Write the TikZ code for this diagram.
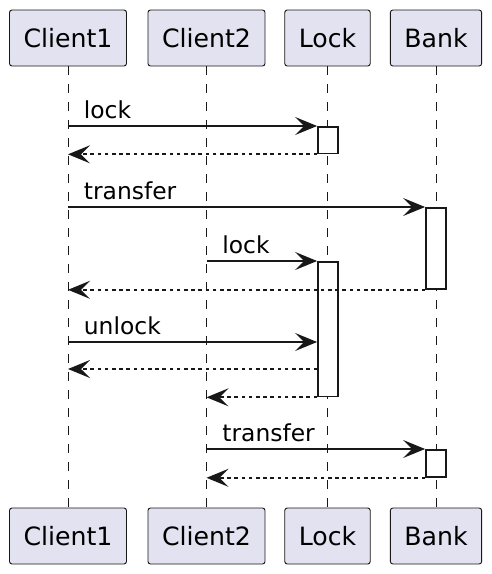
\documentclass[tikz,border=0pt]{standalone}
\usepackage{fontspec}
\setmainfont{DejaVu Sans}
\usetikzlibrary{arrows.meta}
\usetikzlibrary{positioning}
\definecolor{partfill}{HTML}{E2E2F0}
\definecolor{ink}{HTML}{181818}

\tikzset{
  part/.style={draw=ink, fill=partfill, rounded corners=2.5pt, line width=0.9pt,
    minimum height=56pt, inner xsep=14pt, font=\fontsize{25.2}{30}\selectfont},
  life/.style={draw=ink, line width=0.9pt, dash pattern=on 9pt off 9pt},
  act/.style={draw=ink, fill=white, line width=1.8pt, minimum width=20pt, inner sep=0pt, anchor=north},
  msg/.style={draw=ink, line width=1.8pt, -{Stealth[length=22pt,width=18pt,inset=9pt]}},
  ret/.style={msg, dash pattern=on 3.6pt off 3.6pt},
  lbl/.style={font=\fontsize{23.4}{28}\selectfont, anchor=base west, xshift=15pt, yshift=8pt, inner sep=0pt}
}

\begin{document}
\begin{tikzpicture}[x=1pt, y=-1pt]
	\useasboundingbox (0,0) rectangle (491,574);

	% participants, top and bottom
	\begin{scope}[every node/.style={part}]
		\node (c1t) at (68,38) {Client1};
		\node (c2t) at (206.5,38) {Client2};
		\node (lkt) at (327.5,38) {Lock};
		\node (bkt) at (436,38) {Bank};
		\node (c1b) at (68,536) {Client1};
		\node (c2b) at (206.5,536) {Client2};
		\node (lkb) at (327.5,536) {Lock};
		\node (bkb) at (436,536) {Bank};
	\end{scope}

	% lifelines
	\foreach \p in {c1, c2, lk, bk}
		\draw[life] (\p t) -- (\p b);

	% activations
	\node[act, minimum height=26.5pt] (a1) at (328,126) {};
	\node[act, minimum height=81pt] (a2) at (436,207) {};
	\node[act, minimum height=134.5pt] (a3) at (328,261) {};
	\node[act, minimum height=27pt] (a4) at (436,449) {};

	\coordinate (r6) at (0,342);
	\coordinate (r7) at (0,369);

	% messages
	\draw[msg] (c1t |- a1.north west) -- (a1.north west) node[lbl, pos=0] {lock};
	\draw[ret] (a1.south west) -- (c1t |- a1.south west);
	\draw[msg] (c1t |- a2.north west) -- (a2.north west) node[lbl, pos=0] {transfer};
	\draw[msg] (c2t |- a3.north west) -- (a3.north west) node[lbl, pos=0] {lock};
	\draw[ret] (a2.south west) -- (c1t |- a2.south west);
	\draw[msg] (c1t |- r6) -- (a3.west |- r6) node[lbl, pos=0] {unlock};
	\draw[ret] (a3.west |- r7) -- (c1t |- r7);
	\draw[ret] (a3.south west) -- (c2t |- a3.south west);
	\draw[msg] (c2t |- a4.north west) -- (a4.north west) node[lbl, pos=0] {transfer};
	\draw[ret] (a4.south west) -- (c2t |- a4.south west);
\end{tikzpicture}
\end{document}
